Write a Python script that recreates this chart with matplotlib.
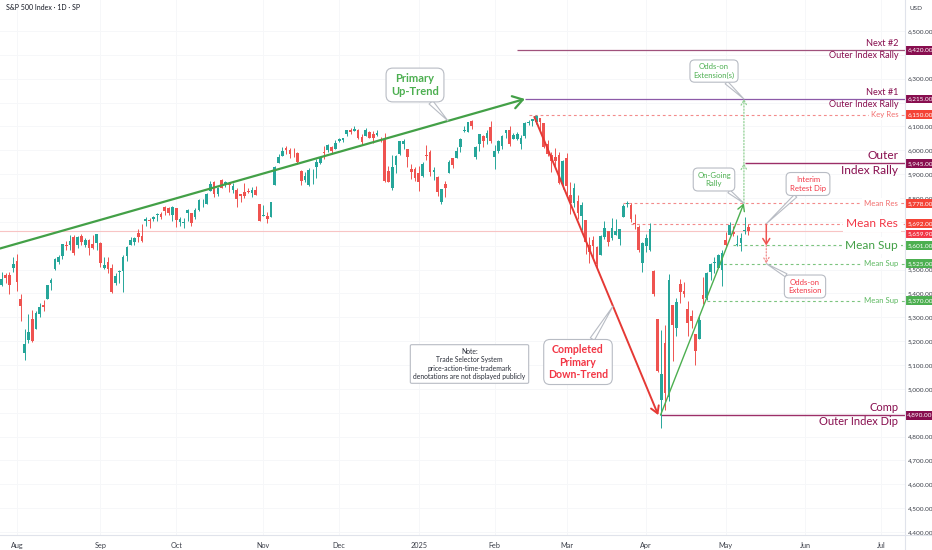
import matplotlib
matplotlib.use("Agg")
import matplotlib.pyplot as plt
import numpy as np
import pandas as pd

plt.rcParams['font.family'] = ['Lato', 'DejaVu Sans']

# ---------------- data (S&P 500, daily) ----------------
dates = ["2024-07-25","2024-07-26","2024-07-29","2024-07-30","2024-07-31",
"2024-08-01","2024-08-02","2024-08-05","2024-08-06","2024-08-07","2024-08-08","2024-08-09","2024-08-12","2024-08-13","2024-08-14","2024-08-15","2024-08-16","2024-08-19","2024-08-20","2024-08-21","2024-08-22","2024-08-23","2024-08-26","2024-08-27","2024-08-28","2024-08-29","2024-08-30",
"2024-09-03","2024-09-04","2024-09-05","2024-09-06","2024-09-09","2024-09-10","2024-09-11","2024-09-12","2024-09-13","2024-09-16","2024-09-17","2024-09-18","2024-09-19","2024-09-20","2024-09-23","2024-09-24","2024-09-25","2024-09-26","2024-09-27","2024-09-30",
"2024-10-01","2024-10-02","2024-10-03","2024-10-04","2024-10-07","2024-10-08","2024-10-09","2024-10-10","2024-10-11","2024-10-14","2024-10-15","2024-10-16","2024-10-17","2024-10-18","2024-10-21","2024-10-22","2024-10-23","2024-10-24","2024-10-25","2024-10-28","2024-10-29","2024-10-30","2024-10-31",
"2024-11-01","2024-11-04","2024-11-05","2024-11-06","2024-11-07","2024-11-08","2024-11-11","2024-11-12","2024-11-13","2024-11-14","2024-11-15","2024-11-18","2024-11-19","2024-11-20","2024-11-21","2024-11-22","2024-11-25","2024-11-26","2024-11-27","2024-11-29",
"2024-12-02","2024-12-03","2024-12-04","2024-12-05","2024-12-06","2024-12-09","2024-12-10","2024-12-11","2024-12-12","2024-12-13","2024-12-16","2024-12-17","2024-12-18","2024-12-19","2024-12-20","2024-12-23","2024-12-24","2024-12-26","2024-12-27","2024-12-30","2024-12-31",
"2025-01-02","2025-01-03","2025-01-06","2025-01-07","2025-01-08","2025-01-10","2025-01-13","2025-01-14","2025-01-15","2025-01-16","2025-01-17","2025-01-21","2025-01-22","2025-01-23","2025-01-24","2025-01-27","2025-01-28","2025-01-29","2025-01-30","2025-01-31",
"2025-02-03","2025-02-04","2025-02-05","2025-02-06","2025-02-07","2025-02-10","2025-02-11","2025-02-12","2025-02-13","2025-02-14","2025-02-18","2025-02-19","2025-02-20","2025-02-21","2025-02-24","2025-02-25","2025-02-26","2025-02-27","2025-02-28",
"2025-03-03","2025-03-04","2025-03-05","2025-03-06","2025-03-07","2025-03-10","2025-03-11","2025-03-12","2025-03-13","2025-03-14","2025-03-17","2025-03-18","2025-03-19","2025-03-20","2025-03-21","2025-03-24","2025-03-25","2025-03-26","2025-03-27","2025-03-28","2025-03-31",
"2025-04-01","2025-04-02","2025-04-03","2025-04-04","2025-04-07","2025-04-08","2025-04-09","2025-04-10","2025-04-11","2025-04-14","2025-04-15","2025-04-16","2025-04-17","2025-04-21","2025-04-22","2025-04-23","2025-04-24","2025-04-25","2025-04-28","2025-04-29","2025-04-30",
"2025-05-01","2025-05-02","2025-05-05","2025-05-06","2025-05-07","2025-05-08","2025-05-09"]

opens = [5428,5434,5477,5479,5505,
5537,5376,5151,5206,5293,5252,5313,5352,5376,5442,5501,5530,5558,5602,5603,5637,5603,5639,5602,5624,5608,5612,
5612,5506,5530,5507,5443,5490,5496,5557,5604,5615,5655,5641,5703,5709,5711,5727,5733,5762,5756,5727,
5757,5698,5696,5737,5737,5719,5751,5778,5775,5829,5866,5816,5875,5859,5857,5832,5835,5816,5826,5831,5819,5835,5776,
5723,5725,5722,5856,5947,5977,6009,6003,5986,5990,5912,5874,5854,5917,5928,5947,5992,6000,6015,6004,
6040,6042,6069,6085,6081,6083,6057,6060,6075,6069,6063,6052,6047,5912,5843,5940,5984,6025,6006,5920,5920,
5903,5892,5982,5994,5911,5890,5782,5860,5906,5966,5969,6015,6081,6077,6121,5970,6026,6058,6050,6096,
5970,5998,6020,6072,6083,6047,6049,6026,6061,6115,6122,6118,6134,6115,6027,5982,5970,5982,5857,
5969,5812,5781,5786,5726,5706,5603,5624,5594,5563,5635,5662,5632,5647,5629,5719,5776,5772,5695,5680,5527,
5598,5581,5492,5292,4953,5193,4965,5353,5256,5441,5412,5335,5306,5232,5207,5395,5381,5489,5529,5508,5499,
5626,5645,5656,5605,5613,5663,5679]

highs = [5491,5488,5487,5489,5551,
5566,5396,5250,5312,5330,5328,5358,5371,5436,5464,5547,5563,5609,5620,5643,5643,5641,5651,5631,5627,5647,5651,
5616,5552,5552,5522,5484,5497,5561,5600,5637,5637,5671,5690,5721,5716,5725,5736,5742,5767,5764,5766,
5757,5720,5715,5753,5739,5758,5796,5796,5823,5871,5870,5846,5879,5873,5867,5863,5842,5817,5862,5843,5848,5850,5776,
5772,5741,5783,5933,5983,6013,6018,6008,6009,5993,5916,5909,5925,5921,5964,5973,6020,6026,6020,6045,
6053,6053,6087,6092,6100,6089,6068,6092,6079,6079,6085,6057,6071,5936,5982,5979,6040,6049,6007,5941,5930,
5936,5949,6021,6000,5928,5891,5839,5871,5961,5966,6012,6051,6100,6119,6128,6018,6069,6063,6087,6121,
6022,6042,6062,6084,6101,6074,6076,6064,6117,6128,6130,6147,6135,6115,6043,5993,6009,5994,5959,
5987,5865,5861,5812,5783,5705,5636,5642,5597,5645,5703,5662,5716,5711,5670,5775,5787,5777,5733,5686,5616,
5650,5695,5500,5292,5246,5267,5482,5353,5381,5460,5450,5367,5329,5232,5309,5469,5489,5528,5554,5565,5581,
5659,5700,5683,5643,5654,5721,5691]

lows = [5390,5430,5444,5398,5488,
5410,5283,5120,5193,5196,5250,5303,5325,5376,5415,5497,5525,5545,5583,5583,5560,5590,5602,5593,5560,5585,5581,
5511,5503,5487,5403,5435,5442,5406,5536,5604,5604,5615,5615,5682,5675,5704,5703,5714,5728,5727,5703,
5677,5683,5675,5704,5684,5713,5746,5764,5775,5829,5804,5809,5840,5846,5824,5822,5762,5784,5800,5823,5803,5812,5702,
5724,5696,5722,5856,5946,5976,5986,5966,5973,5944,5854,5866,5850,5860,5885,5944,5963,5992,5985,6004,
6034,6033,6061,6070,6079,6049,6024,6059,6050,6030,6059,6036,5866,5866,5833,5903,5981,6007,5932,5879,5870,
5830,5888,5960,5891,5874,5809,5773,5803,5906,5924,5969,5991,6076,6075,6088,5962,5995,6012,6026,6030,
5923,5990,6007,6051,6019,6046,6042,6004,6050,6106,6100,6112,6084,6008,5977,5909,5932,5859,5837,
5810,5733,5762,5711,5667,5565,5529,5546,5505,5563,5628,5598,5622,5646,5603,5719,5764,5700,5671,5572,5489,
5574,5579,5391,5069,4835,4910,4949,5116,5220,5358,5387,5221,5255,5102,5207,5357,5372,5456,5484,5506,5433,
5597,5645,5640,5598,5579,5648,5646]

closes = [5399,5459,5464,5436,5522,
5447,5347,5186,5240,5200,5319,5344,5344,5434,5455,5543,5554,5608,5597,5621,5571,5635,5617,5626,5592,5592,5648,
5529,5520,5503,5408,5471,5496,5554,5596,5626,5633,5635,5618,5714,5703,5719,5733,5722,5745,5738,5762,
5709,5710,5700,5751,5696,5751,5792,5780,5815,5860,5815,5842,5841,5865,5854,5851,5797,5810,5808,5824,5833,5814,5705,
5729,5713,5783,5929,5973,5996,6001,5984,5985,5949,5871,5894,5917,5917,5949,5969,5987,6022,5999,6032,
6047,6050,6086,6075,6090,6053,6035,6084,6051,6051,6074,6051,5872,5867,5931,5974,6040,6038,5971,5907,5882,
5869,5942,5975,5909,5918,5827,5836,5843,5950,5937,5997,6049,6086,6119,6101,6012,6068,6039,6071,6041,
5995,6038,6061,6084,6026,6066,6069,6052,6115,6115,6130,6144,6118,6013,5983,5955,5956,5862,5955,
5850,5778,5843,5739,5770,5615,5572,5599,5522,5639,5675,5615,5675,5663,5668,5768,5777,5712,5693,5581,5612,
5633,5671,5397,5074,5062,4983,5457,5268,5363,5406,5397,5276,5283,5158,5288,5376,5485,5525,5529,5561,5569,
5604,5687,5650,5607,5631,5664,5660]

last_price = 5659.90
future_holidays = ["2025-05-26", "2025-06-19", "2025-07-04"]
month_labels = ["Aug", "Sep", "Oct", "Nov", "Dec", "2025", "Feb", "Mar", "Apr", "May", "Jun", "Jul"]

# horizontal levels: price, start date, label-lines
level_prices = [6420, 6215, 6150, 5945, 5778, 5692, 5601, 5525, 5370, 4890]
level_starts = ["2025-02-11", "2025-02-13", "2025-02-14", "2025-05-08", "2025-03-24",
                "2025-03-26", "2025-05-05", "2025-04-29", "2025-04-24", "2025-04-07"]
level_names = ["Next #2|Outer Index Rally", "Next #1|Outer Index Rally", "Key Res", "Outer|Index Rally",
               "Mean Res", "Mean Res", "Mean Sup", "Mean Sup", "Mean Sup", "Comp|Outer Index Dip"]

# trend drawings (anchor date, price)
uptrend = [("2024-07-25", 5586), ("2025-02-13", 6215)]
downtrend = [("2025-02-18", 6140), ("2025-04-07", 4890)]
rally = [("2025-04-07", 4890), ("2025-05-08", 5778)]

# ---------------- figure ----------------
W, H = 932, 550
fig = plt.figure(figsize=(W/100, H/100), dpi=100)
L, R, T, B = 0, 905, 0, 535
ax = fig.add_axes([L/W, (H-B)/H, (R-L)/W, (B-T)/H])

n = len(dates)
dt = pd.to_datetime(dates)
idx = np.arange(n) - 5  # Aug 1 2024 -> 0
fut = pd.bdate_range("2025-05-12", "2025-07-31")
fut = fut[~fut.isin(pd.to_datetime(future_holidays))]
all_dates = dt.append(fut)
all_idx = np.arange(len(all_dates)) - 5
pos = dict(zip(all_dates.strftime("%Y-%m-%d"), all_idx))

def xi(d):
    return pos[d]

px_per_bar = 3.79
x0_px = 17.0
xlim = ((L - x0_px)/px_per_bar, (R - x0_px)/px_per_bar)
pps = (532 - 31)/2100.0
def py2p(py):
    return 4400 + (532 - py)/pps
ax.set_xlim(*xlim)
ax.set_ylim(py2p(B), py2p(T))

yt = np.arange(4400, 6501, 100)
ax.set_yticks(yt)
# tick labels hidden where a level price box sits on top (as the platform does)
ax.set_yticklabels(["" if min(abs(v - p) for p in level_prices) <= 20 else f"{v:,.2f}" for v in yt])
ser = pd.Series(all_idx, index=all_dates)
first_of_month = ser.groupby([all_dates.year, all_dates.month]).first()
mt = [v for v in first_of_month.values if v >= 0][:len(month_labels)]
ax.set_xticks(mt)
ax.set_xticklabels(month_labels)
ax.grid(True, color="#f6f7f9", lw=0.7, zorder=0)
ax.set_axisbelow(True)
for s in ax.spines.values():
    s.set_visible(False)
ax.yaxis.tick_right()
ax.tick_params(axis="y", length=0, pad=2.2, labelsize=4.6, labelcolor="#3a3e48")
ax.tick_params(axis="x", length=0, pad=5, labelsize=5.2, labelcolor="#3a3e48")
fig.add_artist(plt.Line2D([R/W, R/W], [0, 1], color="#e0e3eb", lw=0.8))
fig.add_artist(plt.Line2D([0, 1], [(H-B)/H, (H-B)/H], color="#e0e3eb", lw=0.8))

ax.axhline(last_price, color="#f8c4c4", lw=0.8, zorder=1)

# candles
o = np.array(opens, float); h = np.array(highs, float)
l = np.array(lows, float); c = np.array(closes, float)
up = c >= o
cols = np.where(up, "#26a69a", "#ef5350")
ax.vlines(idx, l, h, colors=cols, lw=0.7, zorder=3)
body_b = np.minimum(o, c)
body_h = np.maximum(np.abs(c - o), 1.5)
ax.bar(idx, body_h, bottom=body_b, width=0.72, color=cols, lw=0, zorder=4)

# ---------------- levels ----------------
MAROON = "#880e4f"
RED = "#f23645"
REDL = "#f26d6d"
GREEN = "#43a047"
GREENL = "#5cb860"
xr = xlim[1] - 1.8

styles = {
    6420: dict(col="#a0527c", ls="-", lw=0.9, tc=MAROON, fs=6.6, box=MAROON),
    6215: dict(col="#8d5aa8", ls="-", lw=0.9, tc=MAROON, fs=6.6, box=MAROON),
    6150: dict(col="#f38b8b", ls=(0, (2.5, 2.5)), lw=0.8, tc=REDL, fs=5.6, box="#f44336"),
    5945: dict(col="#9c2f68", ls="-", lw=1.0, tc=MAROON, fs=8.6, box=MAROON),
    5778: dict(col="#f38b8b", ls=(0, (2.5, 2.5)), lw=0.8, tc=REDL, fs=5.6, box="#f44336"),
    5692: dict(col="#f38b8b", ls=(0, (2.5, 2.5)), lw=0.8, tc=RED, fs=8.6, box="#f44336"),
    5601: dict(col="#7cc47f", ls=(0, (2.5, 2.5)), lw=0.8, tc=GREEN, fs=8.6, box="#4caf50"),
    5525: dict(col="#7cc47f", ls=(0, (2.5, 2.5)), lw=0.8, tc=GREENL, fs=5.6, box="#4caf50"),
    5370: dict(col="#7cc47f", ls=(0, (2.5, 2.5)), lw=0.8, tc=GREENL, fs=5.6, box="#4caf50"),
    4890: dict(col="#9c2f68", ls="-", lw=1.0, tc=MAROON, fs=8.0, box=MAROON),
}

for p, sd, name in zip(level_prices, level_starts, level_names):
    st = styles[p]
    x_start = xi(sd)
    ax.plot([x_start, xlim[1]], [p, p], color=st["col"], ls=st["ls"], lw=st["lw"], zorder=2,
            solid_capstyle="butt")
    parts = name.split("|")
    if len(parts) == 2:
        ax.annotate(parts[0], (xr, p), xytext=(0, 1.5), textcoords="offset points",
                    ha="right", va="bottom", fontsize=st["fs"], color=st["tc"], zorder=6)
        ax.annotate(parts[1], (xr, p), xytext=(0, -1.0), textcoords="offset points",
                    ha="right", va="top", fontsize=st["fs"], color=st["tc"], zorder=6)
    else:
        ax.text(xr, p, parts[0], ha="right", va="center", fontsize=st["fs"], color=st["tc"],
                zorder=6, bbox=dict(boxstyle="square,pad=0.25", fc="white", ec="none"))
    ax.annotate(f"{p:,.2f}", (1.0, p), xycoords=("axes fraction", "data"),
                xytext=(1.6, 0), textcoords="offset points", ha="left", va="center",
                fontsize=4.6, color="white", annotation_clip=False, zorder=10,
                bbox=dict(boxstyle="square,pad=0.3", fc=st["box"], ec="none"))

ax.annotate(f"{last_price:,.2f}", (1.0, last_price), xycoords=("axes fraction", "data"),
            xytext=(1.6, -1.8), textcoords="offset points", ha="left", va="center",
            fontsize=4.6, color="white", annotation_clip=False, zorder=10,
            bbox=dict(boxstyle="square,pad=0.3", fc="#f23645", ec="none"))

# ---------------- trend drawings ----------------
def seg(pts):
    return [(xi(pts[0][0]), pts[0][1]), (xi(pts[1][0]), pts[1][1])]

u = seg(uptrend)
u[0] = (xlim[0], u[0][1] + (u[1][1]-u[0][1])/(u[1][0]-u[0][0])*(xlim[0]-u[0][0]))
ax.annotate("", xy=u[1], xytext=u[0],
            arrowprops=dict(arrowstyle="->,head_length=0.7,head_width=0.45", color="#43a047",
                            lw=1.6, shrinkA=0, shrinkB=0), zorder=5)
d = seg(downtrend)
d = [(d[0][0] + 0.5, d[0][1]), (d[1][0] - 0.8, d[1][1])]
ax.annotate("", xy=d[1], xytext=d[0],
            arrowprops=dict(arrowstyle="->,head_length=0.5,head_width=0.3", color="#e53935",
                            lw=1.4, shrinkA=0, shrinkB=0), zorder=5)
r = seg(rally)
r = [(r[0][0] - 0.2, r[0][1]), (r[1][0] - 0.2, r[1][1])]
ax.annotate("", xy=r[1], xytext=r[0],
            arrowprops=dict(arrowstyle="->,head_length=0.45,head_width=0.25", color="#4caf50",
                            lw=1.0, shrinkA=0, shrinkB=0), zorder=5)
xe = r[1][0]
for a, b in [(5778, 5945), (5945, 6215)]:
    ax.annotate("", xy=(xe, b), xytext=(xe, a),
                arrowprops=dict(arrowstyle="->,head_length=0.35,head_width=0.2", color="#8fcf92",
                                lw=0.9, ls=(0, (1, 1.5)), shrinkA=0, shrinkB=0), zorder=5)
xd = xi("2025-05-16") - 0.3
ax.annotate("", xy=(xd, 5601), xytext=(xd, 5692),
            arrowprops=dict(arrowstyle="->,head_length=0.4,head_width=0.25", color="#ef5350",
                            lw=1.1, shrinkA=0, shrinkB=0), zorder=5)
ax.annotate("", xy=(xd, 5525), xytext=(xd, 5601),
            arrowprops=dict(arrowstyle="->,head_length=0.35,head_width=0.2", color="#f28b8b",
                            lw=0.9, ls=(0, (1, 1.5)), shrinkA=0, shrinkB=0), zorder=5)

# ---------------- callouts ----------------
def px2d(pxx, pyy):
    return ((pxx - x0_px)/px_per_bar, py2p(pyy))

def callout(text, center, tip, color, fs, weight="normal", pad=0.5):
    ax.annotate(text, xy=tip, xytext=center, ha="center", va="center", fontsize=fs,
                color=color, fontweight=weight, linespacing=1.2, zorder=8,
                bbox=dict(boxstyle=f"round,pad={pad},rounding_size=0.6", fc="white", ec="#b8bcc4", lw=0.8),
                arrowprops=dict(arrowstyle="wedge,tail_width=0.45,shrink_factor=0.5",
                                fc="white", ec="#b8bcc4", lw=0.8, shrinkA=0, shrinkB=0))

ut = (u[1][0] - u[0][0])
tip_x = px2d(448, 0)[0]
tip_up = (tip_x, u[0][1] + (u[1][1]-u[0][1])*(tip_x-u[0][0])/ut)
callout("Primary\nUp-Trend", px2d(415, 85), tip_up, "#4caf50", 8.0, "bold", 0.45)
callout("Odds-on\nExtension(s)", px2d(714, 71), (xe, 6215), "#4caf50", 5.6, pad=0.45)
callout("On-Going\nRally", px2d(714, 179.5), (xe, 5778), "#4caf50", 5.6, pad=0.5)
callout("Interim\nRetest Dip", px2d(808, 184), (xd, 5692), "#f23645", 5.6, pad=0.5)
callout("Odds-on\nExtension", px2d(805, 286.5), (xd, 5525), "#f23645", 5.6, pad=0.5)
tx = px2d(613, 0)[0]
tip_dn = (tx, d[0][1] + (d[1][1]-d[0][1])*(tx-d[0][0])/(d[1][0]-d[0][0]))
callout("Completed\nPrimary\nDown-Trend", px2d(578, 362), tip_dn, "#f23645", 7.6, "bold", 0.4)

ax.text(*px2d(469.5, 364), "Note:\nTrade Selector System\nprice-action-time-trademark\ndenotations are not displayed publicly",
        ha="center", va="center", fontsize=4.9, color="#2a2e39", linespacing=1.25, zorder=8,
        bbox=dict(boxstyle="round,pad=0.45,rounding_size=0.2", fc="white", ec="#b8bcc4", lw=0.8))

fig.text(6/W, 1 - 8/H, "S&P 500 Index · 1D · SP", ha="left", va="center", fontsize=5, color="#131722")
fig.text(910/W, 1 - 9/H, "USD", ha="left", va="center", fontsize=4.6, color="#3a3e48")

fig.savefig("out.png", dpi=100)
